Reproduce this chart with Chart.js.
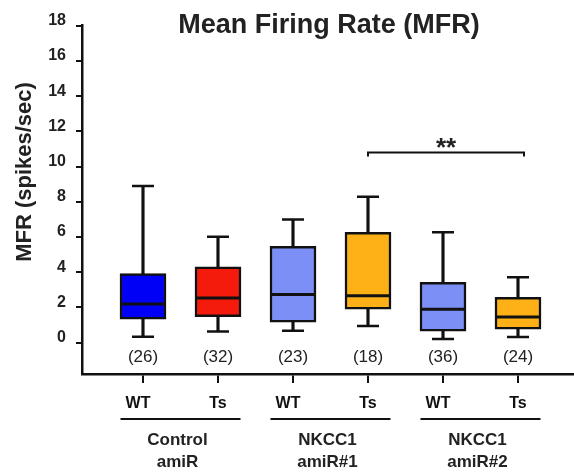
<!DOCTYPE html>
<html>
<head>
<meta charset="utf-8">
<title>Mean Firing Rate (MFR)</title>
<script src="https://cdn.jsdelivr.net/npm/chart.js@4.4.1/dist/chart.umd.min.js"></script>
<style>
  html, body { margin: 0; padding: 0; background: #fff; }
</style>
</head>
<body>
<canvas id="mfrChart" width="574" height="474"></canvas>
<script>
// values
const positions = [1, 2, 3, 4, 5, 6];
const genotypes = ["WT", "Ts", "WT", "Ts", "WT", "Ts"];
const groups = [["Control", "amiR"], ["NKCC1", "amiR#1"], ["NKCC1", "amiR#2"]];
const counts = [26, 32, 23, 18, 36, 24];
const mins = [0.34, 0.63, 0.68, 0.95, 0.21, 0.32];
const q1s = [1.33, 1.48, 1.17, 1.90, 0.65, 0.76];
const medians = [2.19, 2.53, 2.73, 2.66, 1.90, 1.45];
const q3s = [3.92, 4.30, 5.47, 6.27, 3.42, 2.57];
const maxs = [8.89, 6.01, 6.99, 8.29, 6.27, 3.71];
const yTicks = [0, 2, 4, 6, 8, 10, 12, 14, 16, 18];
const boxColors = ["#0000f6", "#f41a0c", "#7b8ff7", "#fdb117", "#7b8ff7", "#fdb117"];
const sig = { from: 4, to: 6.08, y: 10.8, label: "**" };

const FONT = "'Liberation Sans', Arial, sans-serif";
const INK = "#111";
Chart.defaults.font.family = FONT;

// titles, genotype/n labels, group labels and the significance bracket
const annotations = {
  id: "annotations",
  afterDraw(chart) {
    const { ctx, scales: { x, y } } = chart;
    ctx.save();
    ctx.fillStyle = "#222";
    ctx.strokeStyle = INK;

    ctx.font = "bold 27px " + FONT;
    ctx.textAlign = "center";
    ctx.textBaseline = "alphabetic";
    ctx.fillText("Mean Firing Rate (MFR)", 329, 33);

    ctx.save();
    ctx.translate(31, 172);
    ctx.rotate(-Math.PI / 2);
    ctx.font = "bold 22px " + FONT;
    ctx.fillText("MFR (spikes/sec)", 0, 0);
    ctx.restore();

    // sample sizes and genotypes
    ctx.textBaseline = "middle";
    const nY = y.getPixelForValue(0) + 15;
    positions.forEach((p, i) => {
      const px = x.getPixelForValue(p);
      ctx.font = "17px " + FONT;
      ctx.fillText("(" + counts[i] + ")", px, nY);
      ctx.font = "bold 16px " + FONT;
      ctx.fillStyle = "#111";
      ctx.fillText(genotypes[i], px - (i % 2 === 0 ? 5 : 0), 404);
      ctx.fillStyle = "#222";
    });

    // group underline + names
    ctx.lineWidth = 2;
    ctx.textBaseline = "alphabetic";
    ctx.font = "bold 17px " + FONT;
    groups.forEach((g, i) => {
      const mid = (positions[i * 2] + positions[i * 2 + 1]) / 2;
      const cx = x.getPixelForValue(mid);
      const l = x.getPixelForValue(mid - 0.8);
      const r = x.getPixelForValue(mid + 0.8);
      ctx.beginPath();
      ctx.moveTo(l, 419);
      ctx.lineTo(r, 419);
      ctx.stroke();
      ctx.fillText(g[0], cx - 3, 445);
      ctx.fillText(g[1], cx - 3, 467);
    });

    // ** bracket
    const bx1 = x.getPixelForValue(sig.from);
    const bx2 = x.getPixelForValue(sig.to);
    const by = y.getPixelForValue(sig.y);
    ctx.beginPath();
    ctx.moveTo(bx1, by + 4);
    ctx.lineTo(bx1, by);
    ctx.lineTo(bx2, by);
    ctx.lineTo(bx2, by + 4);
    ctx.stroke();
    ctx.font = "bold 26px " + FONT;
    ctx.fillText(sig.label, (bx1 + bx2) / 2, by + 4);

    ctx.restore();
  }
};

const ctx = document.getElementById("mfrChart").getContext("2d");
const chart = new Chart(ctx, {
  type: "bar",
  data: {
    datasets: [
      {
        type: "line",
        label: "median",
        data: positions.map((p, i) => ({ x: p, y: medians[i] })),
        showLine: false,
        pointStyle: "line",
        pointRadius: 21,
        pointBorderWidth: 3,
        pointBorderColor: INK,
        order: 0
      },
      {
        type: "line",
        label: "caps",
        data: positions.flatMap((p, i) => [{ x: p, y: mins[i] }, { x: p, y: maxs[i] }]),
        showLine: false,
        pointStyle: "line",
        pointRadius: 11,
        pointBorderWidth: 2.5,
        pointBorderColor: INK,
        order: 1
      },
      {
        label: "box",
        data: positions.map((p, i) => ({ x: p, y: [q1s[i], q3s[i]] })),
        backgroundColor: boxColors,
        borderColor: INK,
        borderWidth: 2.5,
        borderSkipped: false,
        barThickness: 46,
        grouped: false,
        order: 2
      },
      {
        label: "lower whisker",
        data: positions.map((p, i) => ({ x: p, y: [mins[i], q1s[i]] })),
        backgroundColor: INK,
        borderWidth: 0,
        barThickness: 2.5,
        grouped: false,
        order: 3
      },
      {
        label: "upper whisker",
        data: positions.map((p, i) => ({ x: p, y: [q3s[i], maxs[i]] })),
        backgroundColor: INK,
        borderWidth: 0,
        barThickness: 2.5,
        grouped: false,
        order: 3
      }
    ]
  },
  options: {
    responsive: false,
    animation: false,
    layout: { autoPadding: false, padding: { top: 25.7, left: 0, right: 0, bottom: 0 } },
    plugins: {
      legend: { display: false },
      tooltip: { enabled: false }
    },
    scales: {
      x: {
        type: "linear",
        offset: false,
        min: 0.1867,
        max: 6.7467,
        afterBuildTicks: (s) => { s.ticks = positions.map(v => ({ value: v })); },
        afterFit: (s) => { s.height = 100; },
        ticks: { display: false },
        grid: { offset: false, drawOnChartArea: false, drawTicks: true, tickLength: 9, color: INK, lineWidth: 2 },
        border: { display: true, color: INK, width: 2.5 }
      },
      y: {
        min: -1.78,
        max: 18,
        afterBuildTicks: (s) => { s.ticks = yTicks.map(v => ({ value: v })); },
        afterFit: (s) => { s.width = 82; },
        ticks: {
          font: { size: 16, weight: "bold" },
          color: "#222",
          padding: 10,
          labelOffset: -5
        },
        grid: { drawOnChartArea: false, drawTicks: true, tickLength: 6, color: INK, lineWidth: 2 },
        border: { display: true, color: INK, width: 2.5 }
      }
    }
  },
  plugins: [annotations]
});
</script>
</body>
</html>
